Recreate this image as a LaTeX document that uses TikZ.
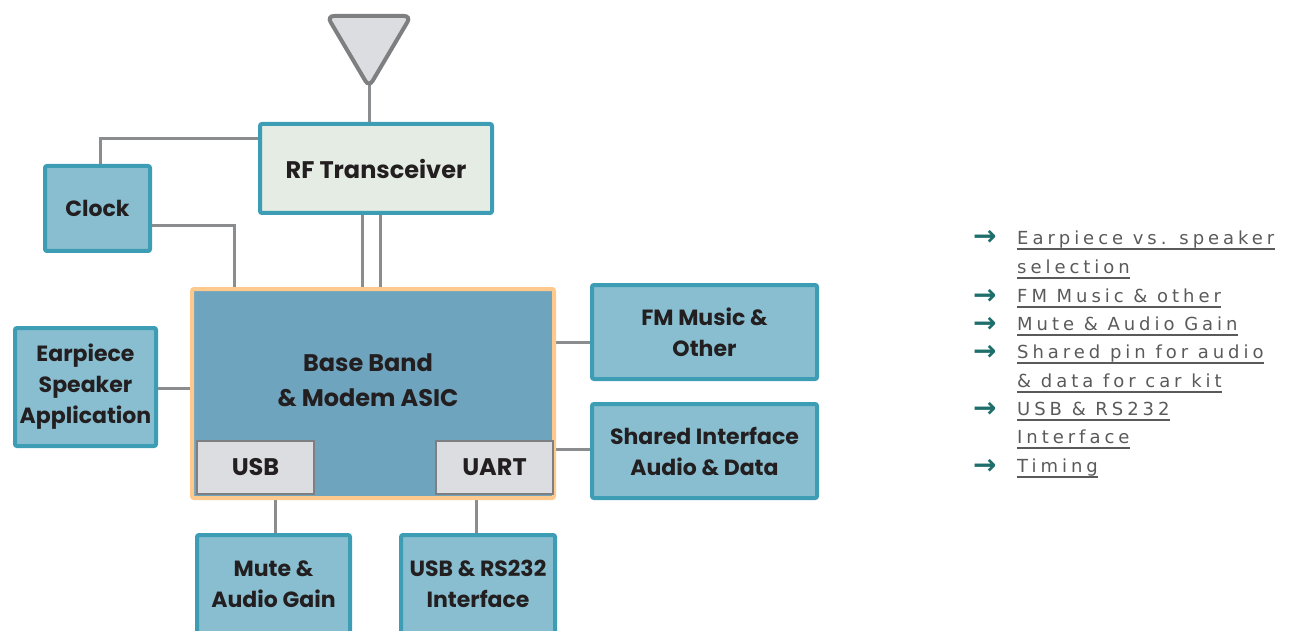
\documentclass[tikz,border=0pt]{standalone}
\usepackage{fontspec}
\usetikzlibrary{backgrounds}
\newfontfamily\boxfont{Poppins}
\newfontfamily\legendfont{DejaVu Sans}[LetterSpace=22]
\newfontfamily\arrowfont{DejaVu Sans}

\definecolor{boxedge}{HTML}{3C9DB5}
\definecolor{boxfill}{HTML}{88BED0}
\definecolor{rffill}{HTML}{E4ECE3}
\definecolor{bbfill}{HTML}{6FA4BF}
\definecolor{bbedge}{HTML}{FDC98D}
\definecolor{chipfill}{HTML}{DCDDE0}
\definecolor{chipedge}{HTML}{7D7F81}
\definecolor{wire}{HTML}{8B8C8E}
\definecolor{ink}{HTML}{231F20}
\definecolor{legtext}{HTML}{5A5A5A}
\definecolor{legarrow}{HTML}{1E6E6C}

\tikzset{
  lbl/.style={align=center, text=ink, font=\boxfont\bfseries\fontsize{22}{31}\selectfont},
  blk/.style={lbl, draw=boxedge, line width=4pt, fill=boxfill, rounded corners=2pt, inner sep=0pt},
  chip/.style={lbl, draw=chipedge, line width=2.5pt, fill=chipfill, inner sep=0pt,
    minimum width=117pt, minimum height=53pt, font=\boxfont\bfseries\fontsize{24}{31}\selectfont},
  wireline/.style={draw=wire, line width=3pt},
  legtxt/.style={anchor=base west, inner sep=0pt, text=legtext,
    font=\legendfont\fontsize{18}{18}\selectfont},
  legul/.style={draw=legtext, line width=2pt},
  legarr/.style={anchor=base west, inner sep=0pt, text=legarrow,
    font=\arrowfont\bfseries\fontsize{28}{28}\selectfont},
}
\newcommand{\legline}[3]{%
  \node[legtxt] (#1) at (1017,#2) {#3};
  \draw[legul] ([yshift=-5pt]#1.base west) -- ([yshift=-5pt]#1.base east);}

\begin{document}
\begin{tikzpicture}[x=1pt,y=-1pt]
\useasboundingbox (0,0) rectangle (1304,631);
\clip (0,0) rectangle (1304,631);

% antenna
\draw[draw=chipedge, fill=chipfill, line width=4pt, rounded corners=7pt]
  (327,16) -- (411,16) -- (369,87) -- cycle;
\coordinate (anttip) at (369,84);

% blocks
\node[blk, fill=rffill, minimum width=232pt, minimum height=89pt,
  font=\boxfont\bfseries\fontsize{24}{31}\selectfont] (rf) at (376,168.5) {RF Transceiver};
\node[blk, minimum width=105pt, minimum height=85pt] (clock) at (97.5,208.5) {Clock};
\node[blk, minimum width=141pt, minimum height=118pt] (ear) at (85.5,387) {Earpiece\\Speaker\\Application};
\node[draw=bbedge, fill=bbfill, line width=4pt, rounded corners=2pt,
  minimum width=362pt, minimum height=209pt] (bb) at (373,393.5) {};
\node[lbl, font=\boxfont\bfseries\fontsize{24}{35}\selectfont] (bbtext) at (368,380) {Base Band\\\& Modem ASIC};
\node[chip] (usb) at (255.5,467.5) {USB};
\node[chip] (uart) at (494.5,467.5) {UART};
\node[blk, minimum width=225pt, minimum height=94pt] (fm) at (704.5,332) {FM Music \&\\Other};
\node[blk, minimum width=225pt, minimum height=94pt] (shared) at (704.5,451) {Shared Interface\\Audio \& Data};
\node[blk, minimum width=153pt, minimum height=98pt] (mute) at (273.5,584) {Mute \&\\Audio Gain};
\node[blk, minimum width=154pt, minimum height=98pt] (rs) at (478,584) {USB \& RS232\\Interface};

% connectors
\begin{scope}[on background layer]
  \draw[wireline] (anttip) -- (anttip |- rf.north);
  \draw[wireline] (rf.west |- 0,139) -| (clock.north -| 100,0);
  \draw[wireline] (clock.east |- 0,226) -| (bb.north -| 234,0);
  \draw[wireline] (rf.south -| 362,0) -- (bb.north -| 362,0);
  \draw[wireline] (rf.south -| 380,0) -- (bb.north -| 380,0);
  \draw[wireline] (ear.east |- 0,388) -- (bb.west |- 0,388);
  \draw[wireline] (bb.east |- 0,342) -- (fm.west |- 0,342);
  \draw[wireline] (bb.east |- 0,449) -- (shared.west |- 0,449);
  \draw[wireline] (usb.south -| 275,0) -- (mute.north -| 275,0);
  \draw[wireline] (uart.south -| 476,0) -- (rs.north -| 476,0);
\end{scope}

% feature list
\node[legarr] (a1) at (973,246) {→};
\node[legarr] (a2) at (973,304) {→};
\node[legarr] (a3) at (973,332) {→};
\node[legarr] (a4) at (973,360) {→};
\node[legarr] (a5) at (973,417) {→};
\node[legarr] (a6) at (973,474) {→};
\legline{t1}{244}{Earpiece vs. speaker}
\legline{t2}{273}{selection}
\legline{t3}{302}{FM Music \& other}
\legline{t4}{330}{Mute \& Audio Gain}
\legline{t5}{358}{Shared pin for audio}
\legline{t6}{387}{\& data for car kit}
\legline{t7}{415}{USB \& RS232}
\legline{t8}{443}{Interface}
\legline{t9}{472}{Timing}
\end{tikzpicture}
\end{document}
